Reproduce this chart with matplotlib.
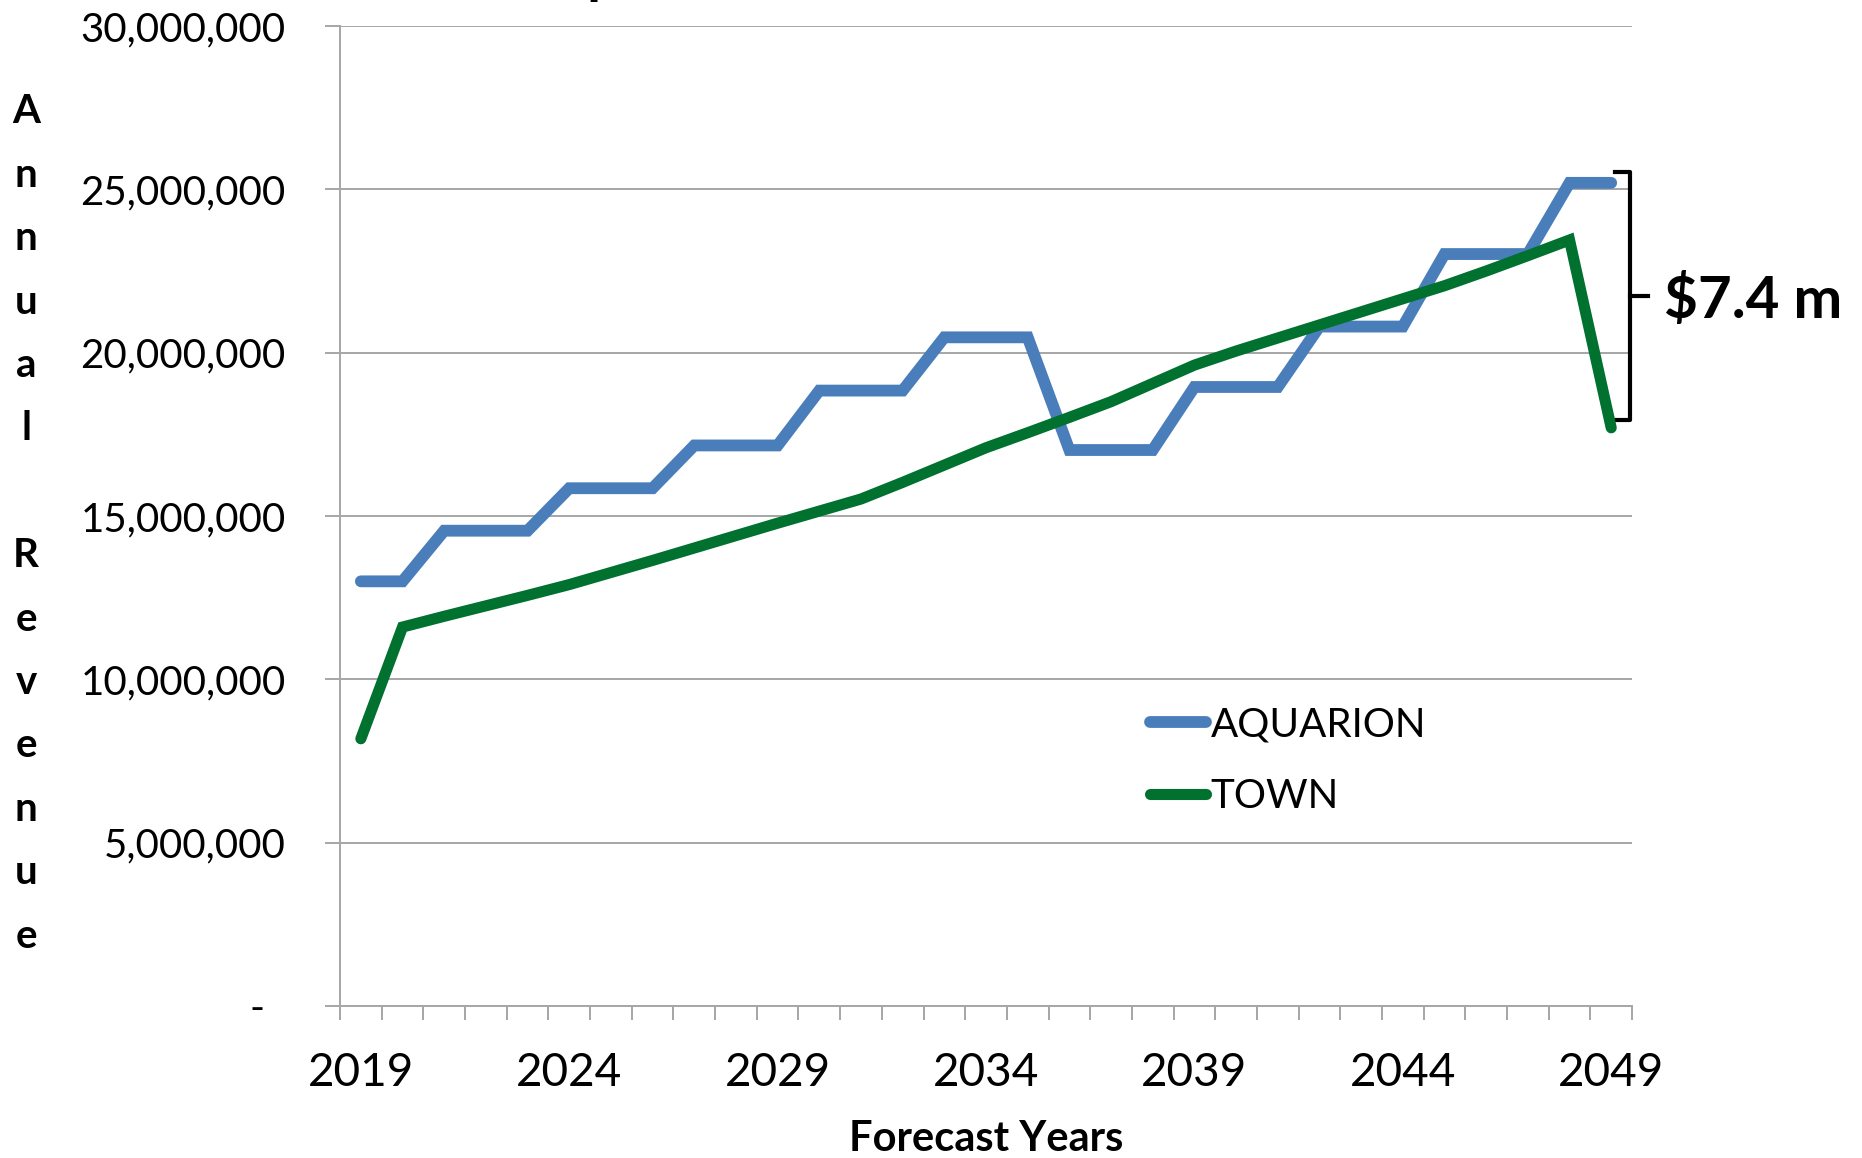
import matplotlib
matplotlib.use('Agg')
import matplotlib.pyplot as plt
from matplotlib.ticker import FuncFormatter, MultipleLocator, FixedLocator

plt.rcParams['font.family'] = ['Lato', 'DejaVu Sans']

# ข้อมูล (ปี และรายได้ต่อปี)
years = list(range(2019, 2050))
aquarion = [13.0, 13.0, 14.55, 14.55, 14.55, 15.85, 15.85, 15.85, 17.16, 17.16,
            17.16, 18.84, 18.84, 18.84, 20.47, 20.47, 20.47, 17.02, 17.02, 17.02,
            18.95, 18.95, 18.95, 20.8, 20.8, 20.8, 23.02, 23.02, 23.02, 25.2, 25.2]
town = [8.18, 11.6, 11.93, 12.25, 12.57, 12.9, 13.27, 13.64, 14.02, 14.4,
        14.78, 15.15, 15.52, 16.03, 16.56, 17.09, 17.55, 18.02, 18.5, 19.06,
        19.62, 20.05, 20.45, 20.85, 21.25, 21.65, 22.05, 22.5, 22.97, 23.45, 17.7]
aquarion = [v * 1e6 for v in aquarion]
town = [v * 1e6 for v in town]
gap_label = '$7.4 m'

fig = plt.figure(figsize=(18.62, 11.58), dpi=100)
ax = fig.add_axes([0.1826, 0.1313, 0.6939, 0.8462])

idx = range(len(years))
ax.plot(idx, aquarion, color='#4A7EBB', lw=8.5, solid_capstyle='round', solid_joinstyle='miter', label='AQUARION', zorder=3)
ax.plot(idx, town, color='#00712F', lw=8, solid_capstyle='round', solid_joinstyle='miter', label='TOWN', zorder=4)

# แกน
ax.set_xlim(-0.5, len(years) - 0.5)
ax.set_ylim(0, 30e6)
ax.yaxis.set_major_locator(MultipleLocator(5e6))
ax.yaxis.set_major_formatter(FuncFormatter(lambda v, p: '-  ' if v == 0 else f'{v:,.0f}'))
ax.set_xticks(list(idx)[::5])
ax.set_xticklabels([str(y) for y in years[::5]])
ax.xaxis.set_minor_locator(FixedLocator([i - 0.5 for i in range(len(years) + 1)]))

ax.grid(True, axis='y', color='#A6A6A6', lw=1.4)
ax.set_axisbelow(True)
for s in ['top', 'right']:
    ax.spines[s].set_visible(False)
for s in ['left', 'bottom']:
    ax.spines[s].set_color('#A6A6A6')
    ax.spines[s].set_linewidth(1.4)

ax.tick_params(axis='y', length=11, width=1.4, color='#A6A6A6', labelsize=29, pad=28)
ax.tick_params(axis='x', which='major', length=0, labelsize=33, pad=33)
ax.tick_params(axis='x', which='minor', length=10, width=1.4, color='#A6A6A6')

ax.set_xlabel('Forecast Years', fontsize=30, fontweight='bold', labelpad=19)

# ป้ายแกน y แบบตัวอักษรเรียงลงมา
fig.text(0.014, 0.5475, '\n'.join('Annual Revenue'), fontsize=29, fontweight='bold',
         ha='center', va='center', multialignment='center', linespacing=1.88)

# ชื่อกราฟ (ถูกตัดขอบบน)
fig.text(0.463, 1.006, 'Comparison of Annual Revenue', fontsize=40, fontweight='bold',
         ha='center', va='baseline')

# วงเล็บแสดงส่วนต่าง
n = len(years) - 1
top = aquarion[-1] + 0.33e6
bot = town[-1] + 0.24e6
mid = (top + bot) / 2
bx = n + 0.45
ax.plot([bx - 0.36, bx, bx, bx - 0.36], [top, top, bot, bot], color='black', lw=3, clip_on=False, solid_joinstyle='round')
ax.plot([bx, bx + 0.43], [mid, mid], color='black', lw=3, clip_on=False)
ax.text(n + 1.27, mid - 0.15e6, gap_label, fontsize=42, fontweight='bold', ha='left', va='center')

ax.legend(loc='upper left', bbox_to_anchor=(0.6176, 0.390), bbox_transform=fig.transFigure,
          frameon=False, fontsize=29, handlelength=1.4, handletextpad=0.1,
          labelspacing=0.85, borderpad=0, borderaxespad=0)

plt.savefig('out.png', dpi=100)
